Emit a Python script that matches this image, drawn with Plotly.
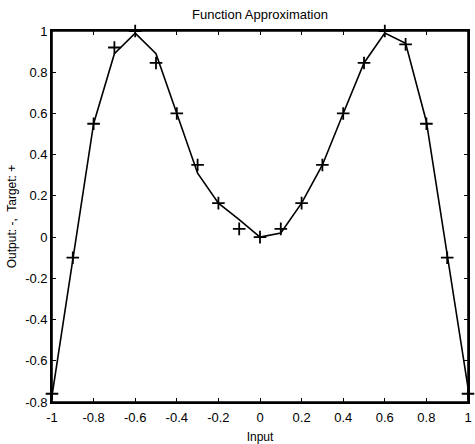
import plotly.graph_objects as go

inputs = [-1.0, -0.9, -0.8, -0.7, -0.6, -0.5, -0.4, -0.3, -0.2, -0.1, 0.0,
          0.1, 0.2, 0.3, 0.4, 0.5, 0.6, 0.7, 0.8, 0.9, 1.0]
target = [-0.76, -0.10, 0.55, 0.92, 1.0, 0.845, 0.60, 0.35, 0.165, 0.04, 0.0,
          0.04, 0.165, 0.35, 0.60, 0.845, 1.0, 0.935, 0.55, -0.10, -0.76]
output = [-0.77, -0.10, 0.55, 0.89, 0.99, 0.89, 0.60, 0.31, 0.165, 0.085, 0.0,
          0.02, 0.165, 0.35, 0.60, 0.845, 0.99, 0.94, 0.56, -0.09, -0.73]

x_ticks = [-1, -0.8, -0.6, -0.4, -0.2, 0, 0.2, 0.4, 0.6, 0.8, 1]
x_labels = ["-1", "-0.8", "-0.6", "-0.4", "-0.2", "0", "0.2", "0.4", "0.6", "0.8", "1"]
y_ticks = [-0.8, -0.6, -0.4, -0.2, 0, 0.2, 0.4, 0.6, 0.8, 1]
y_labels = ["-0.8", "-0.6", "-0.4", "-0.2", "0", "0.2", "0.4", "0.6", "0.8", "1"]

FONT = "Liberation Sans Narrow, Liberation Sans, Arial, sans-serif"

fig = go.Figure()
fig.add_trace(go.Scatter(x=inputs, y=target, mode="markers",
                         marker=dict(symbol="cross-thin", size=9,
                                     line=dict(color="black", width=1.8)),
                         cliponaxis=False, showlegend=False))
fig.add_trace(go.Scatter(x=inputs, y=output, mode="lines",
                         line=dict(color="black", width=1.6),
                         cliponaxis=False, showlegend=False))

# plot frame
fig.add_shape(type="rect", xref="paper", yref="paper", x0=0, x1=1, y0=0, y1=1,
              line=dict(color="black", width=1.6), layer="above")

axis_common = dict(showline=True, linecolor="black", linewidth=1.6, mirror="ticks",
                   ticks="inside", ticklen=4, tickcolor="black", tickwidth=1.2,
                   showgrid=False, zeroline=False, automargin=False,
                   tickfont=dict(family=FONT, size=13, color="black"))

W, H = 475, 444
fig.update_layout(
    width=W, height=H,
    margin=dict(l=52, r=7, t=31, b=42),
    paper_bgcolor="white", plot_bgcolor="white",
    title=dict(text="Function Approximation", x=0.5, xref="paper", xanchor="center",
               y=1 - 14 / H, yanchor="middle", yref="container",
               font=dict(family=FONT, size=13, color="black")),
    xaxis=dict(range=[-1, 1], tickvals=x_ticks, ticktext=x_labels,
               ticklabelstandoff=3,
               title=dict(text="Input", standoff=12,
                          font=dict(family=FONT, size=12, color="black")),
               **axis_common),
    yaxis=dict(range=[-0.8, 1], tickvals=y_ticks, ticktext=y_labels,
               title=dict(text="Output: -,  Target: +", standoff=6,
                          font=dict(family=FONT, size=12, color="black")),
               **axis_common),
)

fig.write_html(
    "out.html",
    config={"displayModeBar": False},
    post_script="document.body.style.margin='0';document.body.style.overflow='hidden';",
)
